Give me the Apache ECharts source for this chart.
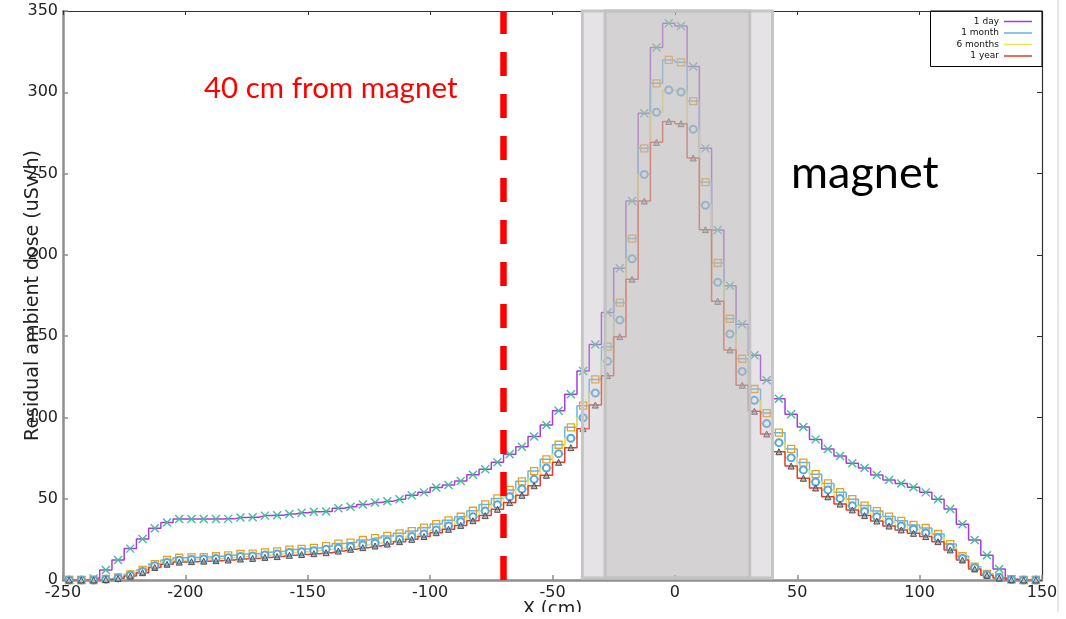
<!DOCTYPE html>
<html>
<head>
<meta charset="utf-8">
<script src="https://cdn.jsdelivr.net/npm/echarts@6/dist/echarts.min.js"></script>
<style>
html,body{margin:0;padding:0;background:#fff;}
#chart{width:1066px;height:619px;}
</style>
</head>
<body>
<div id="chart"></div>
<script>
// Bin centres (5 cm bins from -250 to 150)
var binCenters = [];
for (var k = 0; k < 80; k++) { binCenters.push(-247.5 + 5 * k); }

var seriesNames = ['1 day', '1 month', '6 months', '1 year'];

var day1 = [
  0, 0, 1.0, 6.2, 12.3, 19.3, 25.2, 31.8, 35.3, 37.5,
  37.5, 37.5, 37.5, 37.6, 38.5, 38.6, 39.6, 39.8, 40.6, 41.4,
  42.0, 42.2, 44.1, 45.1, 46.5, 47.7, 48.5, 49.7, 52.2, 53.9,
  56.9, 58.5, 60.9, 64.7, 68.1, 72.5, 77.4, 82.0, 88.2, 95.3,
  104.1, 114.3, 128.6, 144.8, 164.6, 191.7, 233.1, 287.1, 327.6, 342.4,
  340.8, 315.8, 265.5, 215.3, 181.0, 157.3, 138.2, 122.9, 111.5, 101.9,
  94.1, 86.5, 80.6, 76.3, 71.8, 68.9, 64.6, 61.5, 59.3, 57.0,
  53.9, 49.6, 43.7, 34.3, 24.6, 15.2, 6.8, 0.6, 0, 0
];
var month1 = [
  0, 0, 0, 0.6, 1.6, 3.5, 6.2, 9.8, 12.3, 13.7,
  13.9, 14.1, 14.6, 15.2, 16.0, 16.2, 17.0, 17.6, 18.7, 19.1,
  19.7, 20.8, 22.4, 23.0, 24.6, 25.8, 27.1, 28.7, 30.1, 32.2,
  34.4, 36.7, 38.9, 42.6, 46.5, 50.2, 55.4, 60.7, 67.0, 74.2,
  83.2, 93.9, 107.2, 123.4, 143.5, 170.6, 210.0, 265.5, 305.5, 319.9,
  318.4, 294.6, 244.8, 195.0, 160.7, 136.1, 117.5, 102.7, 90.6, 80.6,
  72.2, 65.1, 59.4, 54.0, 49.7, 45.8, 42.4, 39.0, 36.4, 33.9,
  32.0, 28.3, 22.1, 14.6, 8.2, 3.7, 1.6, 0.4, 0, 0
];
var months6 = [
  0, 0, 0, 0.4, 1.3, 2.9, 5.3, 8.7, 10.8, 12.2,
  12.6, 12.9, 13.2, 13.7, 14.4, 14.7, 15.4, 16.0, 16.9, 17.4,
  18.0, 18.9, 19.5, 20.5, 21.5, 22.6, 23.8, 25.0, 26.7, 28.3,
  30.8, 33.2, 35.9, 38.9, 42.4, 46.3, 51.2, 56.0, 61.9, 68.9,
  77.7, 87.2, 99.8, 115.0, 134.5, 159.9, 197.6, 249.5, 287.7, 301.4,
  300.2, 277.2, 230.5, 183.1, 151.3, 128.3, 110.5, 96.2, 84.5, 75.2,
  67.7, 60.3, 55.4, 50.2, 45.7, 42.2, 38.9, 35.7, 33.2, 31.2,
  28.9, 26.0, 20.1, 13.3, 7.6, 3.3, 1.5, 0.3, 0, 0
];
var year1 = [
  0, 0, 0, 0.3, 1.0, 2.4, 4.5, 7.7, 9.7, 11.0,
  11.3, 11.6, 11.9, 12.3, 12.9, 13.3, 13.9, 14.4, 15.2, 15.7,
  16.2, 16.8, 17.8, 18.9, 19.9, 20.9, 22.1, 23.6, 25.0, 26.7,
  29.1, 31.2, 33.6, 36.5, 39.6, 43.5, 47.6, 52.1, 58.0, 64.4,
  72.4, 81.4, 93.1, 107.6, 125.7, 149.7, 185.0, 233.1, 269.2, 282.1,
  280.7, 259.6, 215.5, 171.4, 141.5, 119.8, 103.8, 89.8, 78.9, 70.1,
  62.6, 56.6, 51.2, 46.7, 43.1, 39.6, 36.3, 33.2, 30.8, 28.7,
  26.7, 23.6, 18.5, 12.3, 6.8, 2.9, 1.2, 0.2, 0, 0
];

var xTicks = [-250, -200, -150, -100, -50, 0, 50, 100, 150];
var yTicks = [0, 50, 100, 150, 200, 250, 300, 350];

// Magnet regions (cm) and the 40 cm marker position
var magnetOuter = [-37.8, 39.9];
var magnetInner = [-28.5, 30.6];
var markerX = -70;

var lineColors = ['#a53ce0', '#62b5ea', '#efe05a', '#ea3a26'];
var pointColors = ['#3fbf96', '#e8a020', '#56a8e0', '#505050'];

function pairs(vals) {
  return binCenters.map(function (x, i) { return [x, vals[i]]; });
}

var chart = echarts.init(document.getElementById('chart'), null, {renderer: 'canvas'});

var FONT = 'DejaVu Sans';
var sym = [
  {symbol: 'path://M0 0L10 10M10 0L0 10', size: 8, style: {color: 'rgba(0,0,0,0)', borderColor: pointColors[0], borderWidth: 1.4}},
  {symbol: 'path://M0 0H10V10H0Z', size: 7, style: {color: 'rgba(0,0,0,0)', borderColor: pointColors[1], borderWidth: 1.3}},
  {symbol: 'emptyCircle', size: 7, style: {color: pointColors[2], borderColor: pointColors[2], borderWidth: 1.3}},
  {symbol: 'path://M5 0L10 9H0Z', size: 6, style: {color: 'rgba(140,140,140,0.6)', borderColor: pointColors[3], borderWidth: 1}}
];
var dataSets = [day1, month1, months6, year1];

var series = dataSets.map(function (vals, i) {
  return {
    name: seriesNames[i],
    type: 'line',
    step: 'middle',
    data: pairs(vals),
    symbol: sym[i].symbol,
    symbolSize: sym[i].size,
    showAllSymbol: true,
    lineStyle: {color: lineColors[i], width: 1.5},
    itemStyle: sym[i].style,
    emphasis: {disabled: true},
    animation: false,
    z: 2
  };
});

series.push({
  name: 'overlay',
  type: 'line',
  data: [],
  silent: true,
  animation: false,
  markArea: {
    silent: true,
    z: 3,
    data: [
      [{coord: [magnetOuter[0], 1.2], itemStyle: {color: 'rgba(190,185,190,0.40)', borderColor: '#c6c6c6', borderWidth: 3}},
       {coord: [magnetOuter[1], 350.3]}],
      [{coord: [magnetInner[0], 1.2], itemStyle: {color: 'rgba(189,186,186,0.40)', borderColor: '#c2c2c2', borderWidth: 3}},
       {coord: [magnetInner[1], 350.3]}]
    ],
    label: {show: false}
  },
  markLine: {
    silent: true,
    z: 5,
    symbol: ['none', 'none'],
    label: {show: false},
    lineStyle: {color: '#ff0000', width: 6.5, type: [24, 18]},
    data: [[{coord: [markerX, 0]}, {coord: [markerX, 350]}]]
  }
});

var option = {
  backgroundColor: '#ffffff',
  animation: false,
  grid: {left: 63, right: 24, top: 11, bottom: 39, containLabel: false, outerBoundsMode: 'none'},
  legend: {
    orient: 'vertical',
    right: 24,
    top: 11,
    align: 'right',
    itemWidth: 28,
    itemHeight: 1.5,
    itemGap: 2.5,
    padding: [6, 10, 6, 26],
    borderColor: '#000',
    borderWidth: 1,
    textStyle: {fontFamily: FONT, fontSize: 9, color: '#111', padding: [0, 0, 0, 0]},
    data: seriesNames.map(function (n, i) {
      return {name: n, icon: 'rect', itemStyle: {color: lineColors[i], borderWidth: 0}};
    })
  },
  xAxis: [{
    type: 'value',
    min: -250, max: 150, interval: 50,
    name: 'X (cm)',
    nameLocation: 'middle',
    nameGap: 20,
    nameMoveOverlap: false,
    nameTextStyle: {fontFamily: FONT, fontSize: 18, color: '#222', verticalAlign: 'top'},
    axisLine: {show: true, onZero: false, lineStyle: {color: '#8e8e8e', width: 2.5}},
    axisTick: {show: true, inside: true, length: 5, lineStyle: {color: '#8e8e8e', width: 1.5}},
    axisLabel: {fontFamily: FONT, fontSize: 16, color: '#222', margin: 5,
      formatter: function (v) { return xTicks.indexOf(v) >= 0 ? String(v) : ''; }},
    splitLine: {show: false}
  }, {
    type: 'value', position: 'top',
    min: -250, max: 150, interval: 50,
    axisLine: {show: true, onZero: false, lineStyle: {color: '#333', width: 1}},
    axisTick: {show: true, inside: true, length: 4, lineStyle: {color: '#333'}},
    axisLabel: {show: false},
    splitLine: {show: false}
  }],
  yAxis: [{
    type: 'value',
    min: 0, max: 350, interval: 50,
    name: 'Residual ambient dose (uSv/h)',
    nameLocation: 'middle',
    nameGap: 20,
    nameMoveOverlap: false,
    nameRotate: 90,
    nameTextStyle: {fontFamily: FONT, fontSize: 19, color: '#222'},
    axisLine: {show: true, onZero: false, lineStyle: {color: '#8e8e8e', width: 2.5}},
    axisTick: {show: true, inside: true, length: 5, lineStyle: {color: '#8e8e8e', width: 1.5}},
    axisLabel: {fontFamily: FONT, fontSize: 16, color: '#222', margin: 5,
      formatter: function (v) { return yTicks.indexOf(v) >= 0 ? String(v) : ''; }},
    splitLine: {show: false}
  }, {
    type: 'value', position: 'right',
    min: 0, max: 350, interval: 50,
    axisLine: {show: true, onZero: false, lineStyle: {color: '#333', width: 1.2}},
    axisTick: {show: true, inside: true, length: 5, lineStyle: {color: '#333'}},
    axisLabel: {show: false},
    splitLine: {show: false}
  }],
  graphic: [
    {type: 'text', left: 204, top: 73, z: 50,
      style: {text: '40 cm from magnet', fill: '#ff0000', font: '29.5px Lato'}},
    {type: 'text', left: 791, top: 151, z: 50,
      style: {text: 'magnet', fill: '#000000', font: '45px Lato'}},
    {type: 'line', z: 50, shape: {x1: 1058, y1: 0, x2: 1058, y2: 619},
      style: {stroke: '#d0d0d0', lineWidth: 1}},
    {type: 'rect', z: 60, shape: {x: 0, y: 612, width: 1066, height: 7},
      style: {fill: '#ffffff'}}
  ],
  series: series
};
chart.setOption(option);
</script>
</body>
</html>
